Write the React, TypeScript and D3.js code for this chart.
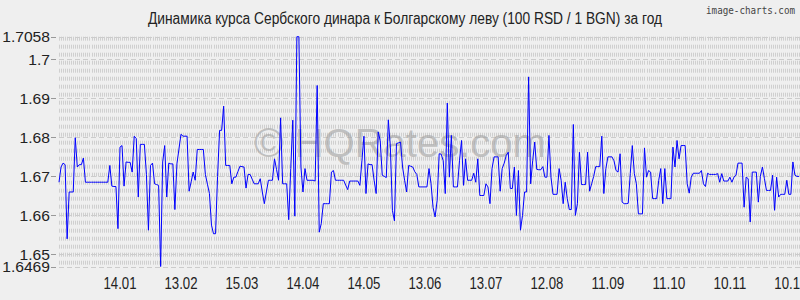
import React from "react";
import * as d3 from "d3";

const titleText = "Динамика курса Сербского динара к Болгарскому леву (100 RSD / 1 BGN) за год";
const logoText = "image-charts.com";
const watermarkText = "© HQRates.com";

const rates: number[] = [
  1.6685, 1.6724, 1.6734, 1.6730, 1.6540, 1.6660, 1.6660, 1.6660, 1.6799, 1.6724, 1.6730, 1.6730, 1.6747,
  1.6685, 1.6685, 1.6685, 1.6685, 1.6685, 1.6685, 1.6685, 1.6685, 1.6685, 1.6685, 1.6685, 1.6685,
  1.6728, 1.6675, 1.6674, 1.6674, 1.6566, 1.6775, 1.6779, 1.6675, 1.6737, 1.6736, 1.6736, 1.6711, 1.6803, 1.6797, 1.6647,
  1.6782, 1.6782, 1.6782, 1.6705, 1.6562, 1.6728, 1.6734, 1.6681, 1.6679, 1.6677,
  1.6469, 1.6737, 1.6779, 1.6647, 1.6734, 1.6732, 1.6732, 1.6615, 1.6732, 1.6770,
  1.6808, 1.6803, 1.6803, 1.6803, 1.6662, 1.6686, 1.6711, 1.6690, 1.6769, 1.6769,
  1.6769, 1.6769, 1.6705, 1.6680, 1.6656, 1.6575, 1.6553, 1.6553, 1.6700, 1.6818,
  1.6818, 1.6880, 1.6728, 1.6728, 1.6728, 1.6681, 1.6698, 1.6698, 1.6712, 1.6726,
  1.6725, 1.6724, 1.6670, 1.6705, 1.6705, 1.6693, 1.6681, 1.6681, 1.6681, 1.6694,
  1.6660, 1.6630, 1.6660, 1.6690, 1.6690, 1.6690, 1.6745, 1.6718, 1.6690, 1.6850,
  1.6681, 1.6681, 1.6681, 1.6589, 1.6720, 1.6844, 1.6598, 1.7058, 1.7058, 1.6724,
  1.6660, 1.6720, 1.6690, 1.6690, 1.6690, 1.6690, 1.6688, 1.6933, 1.6557, 1.6579,
  1.6630, 1.6630, 1.6630, 1.6630, 1.6711, 1.6715, 1.6690, 1.6690, 1.6690, 1.6690,
  1.6690, 1.6678, 1.6666, 1.6688, 1.6688, 1.6688, 1.6688, 1.6688, 1.6677, 1.6740,
  1.6803, 1.6656, 1.6732, 1.6730, 1.6730, 1.6690, 1.6656, 1.6814, 1.6792, 1.6703,
  1.6700, 1.6697, 1.6845, 1.6775, 1.6613, 1.6586, 1.6784, 1.6786, 1.6788, 1.6724,
  1.6690, 1.6660, 1.6728, 1.6726, 1.6724, 1.6712, 1.6705, 1.6673, 1.6673, 1.6673,
  1.6673, 1.6673, 1.6720, 1.6681, 1.6620, 1.6596, 1.6638, 1.6758, 1.6757, 1.6740,
  1.6656, 1.6888, 1.6698, 1.6805, 1.6673, 1.6673, 1.6673, 1.6740, 1.6792, 1.6677,
  1.6745, 1.6690, 1.6690, 1.6690, 1.6708, 1.6685, 1.6745, 1.6651, 1.6651, 1.6651,
  1.6681, 1.6673, 1.6630, 1.6720, 1.6750, 1.6750, 1.6750, 1.6662, 1.6720, 1.6734,
  1.6754, 1.6762, 1.6669, 1.6669, 1.6724, 1.6600, 1.6715, 1.6562, 1.6600, 1.6660,
  1.6660, 1.6955, 1.6681, 1.6740, 1.6788, 1.6718, 1.6717, 1.6717, 1.6725, 1.6698,
  1.6698, 1.6805, 1.6698, 1.6654, 1.6654, 1.6654, 1.6720, 1.6690, 1.6630, 1.6685,
  1.6643, 1.6615, 1.6615, 1.6833, 1.6600, 1.6630, 1.6762, 1.6679, 1.6679, 1.6679,
  1.6762, 1.6662, 1.6681, 1.6700, 1.6725, 1.6725, 1.6725, 1.6803, 1.6656, 1.6720,
  1.6750, 1.6750, 1.6750, 1.6740, 1.6715, 1.6711, 1.6758, 1.6634, 1.6630, 1.6630,
  1.6631, 1.6707, 1.6779, 1.6707, 1.6681, 1.6604, 1.6604, 1.6604, 1.6773, 1.6698,
  1.6715, 1.6711, 1.6643, 1.6643, 1.6643, 1.6690, 1.6720, 1.6630, 1.6720, 1.6643,
  1.6643, 1.6643, 1.6775, 1.6724, 1.6792, 1.6745, 1.6779, 1.6779, 1.6779, 1.6681,
  1.6657, 1.6698, 1.6708, 1.6708, 1.6708, 1.6708, 1.6715, 1.6681, 1.6674, 1.6708,
  1.6705, 1.6705, 1.6705, 1.6705, 1.6707, 1.6685, 1.6707, 1.6688, 1.6688, 1.6688,
  1.6698, 1.6685, 1.6698, 1.6703, 1.6734, 1.6734, 1.6734, 1.6621, 1.6698, 1.6694,
  1.6583, 1.6711, 1.6711, 1.6711, 1.6634, 1.6700, 1.6724, 1.6694, 1.6664, 1.6664,
  1.6664, 1.6703, 1.6613, 1.6698, 1.6647, 1.6654, 1.6654, 1.6654, 1.6690, 1.6654,
  1.6654, 1.6737, 1.6703, 1.6700, 1.6700,
];

const xTickLabels: string[] = ["14.01", "13.02", "15.03", "14.04", "14.05", "13.06", "13.07", "12.08", "11.09", "11.10", "10.11", "10.12"];
const xTickEvery = 30;
const yMajorTicks: number[] = [1.65, 1.66, 1.67, 1.68, 1.69, 1.7];

const W = 800;
const H = 300;
const FONT = "'Liberation Sans', Arial, sans-serif";

export default function App() {
  const [yMin, yMax] = d3.extent(rates) as [number, number];
  const x = d3.scaleLinear().domain([0, rates.length - 1]).range([59, 799]);
  const y = d3.scaleLinear().domain([yMin, yMax]).range([266.5, 36.7]);
  const line = d3.line<number>().x((_, i) => x(i)).y((d) => y(d));

  const yLabels = [yMin, ...yMajorTicks, yMax];
  const fmt = (v: number) => String(+v.toFixed(4));

  return (
    <svg width={W} height={H} style={{ position: "absolute", left: 0, top: 0, background: "#efefef" }}>
      <rect x={0} y={0} width={W} height={H} fill="#efefef" />
      {rates.map((_, i) => (
        <line key={"v" + i} x1={Math.round(x(i)) + 0.5} x2={Math.round(x(i)) + 0.5} y1={y(yMax)} y2={y(yMin)}
          stroke="#cfcfcf" strokeWidth={1} strokeDasharray="4,4" />
      ))}
      {yLabels.map((v, i) => (
        <line key={"h" + i} x1={59} x2={W} y1={Math.round(y(v)) + 0.5} y2={Math.round(y(v)) + 0.5}
          stroke="#cccccc" strokeWidth={1} strokeDasharray="5,3" />
      ))}
      {yLabels.map((v, i) => {
        const s = fmt(v);
        return (
          <g key={"yl" + i}>
            <line x1={51} x2={56} y1={Math.round(y(v)) + 0.5} y2={Math.round(y(v)) + 0.5} stroke="#999" strokeWidth={1} />
            <text x={50} y={y(v)} dy="0.36em" textAnchor="end" fontFamily={FONT} fontSize={15} fill="#222"
              textLength={s.length === 1 ? undefined : (s.length - 1) * 8.7 + 4.3} lengthAdjust="spacingAndGlyphs">{s}</text>
          </g>
        );
      })}
      <text x={400} y={157} textAnchor="middle" fontFamily={FONT} fontSize={40}
        fill="#a0a0a0" fillOpacity={0.6}>{watermarkText}</text>
      {xTickLabels.map((t, k) => (
        <text key={"xl" + k} x={x((k + 1) * xTickEvery)} y={289} textAnchor="middle" fontFamily={FONT} fontSize={16} fill="#222"
          textLength={33} lengthAdjust="spacingAndGlyphs">{t}</text>
      ))}
      <path d={line(rates) || ""} fill="none" stroke="#0000ff" strokeWidth={1} />
      <text x={405} y={24} textAnchor="middle" fontFamily={FONT} fontSize={16} fill="#222"
        textLength={514} lengthAdjust="spacingAndGlyphs">{titleText}</text>
      <text x={795} y={14} textAnchor="end" fontFamily="'DejaVu Sans Mono', monospace" fontSize={10} fill="#444"
        textLength={89} lengthAdjust="spacingAndGlyphs">{logoText}</text>
    </svg>
  );
}
